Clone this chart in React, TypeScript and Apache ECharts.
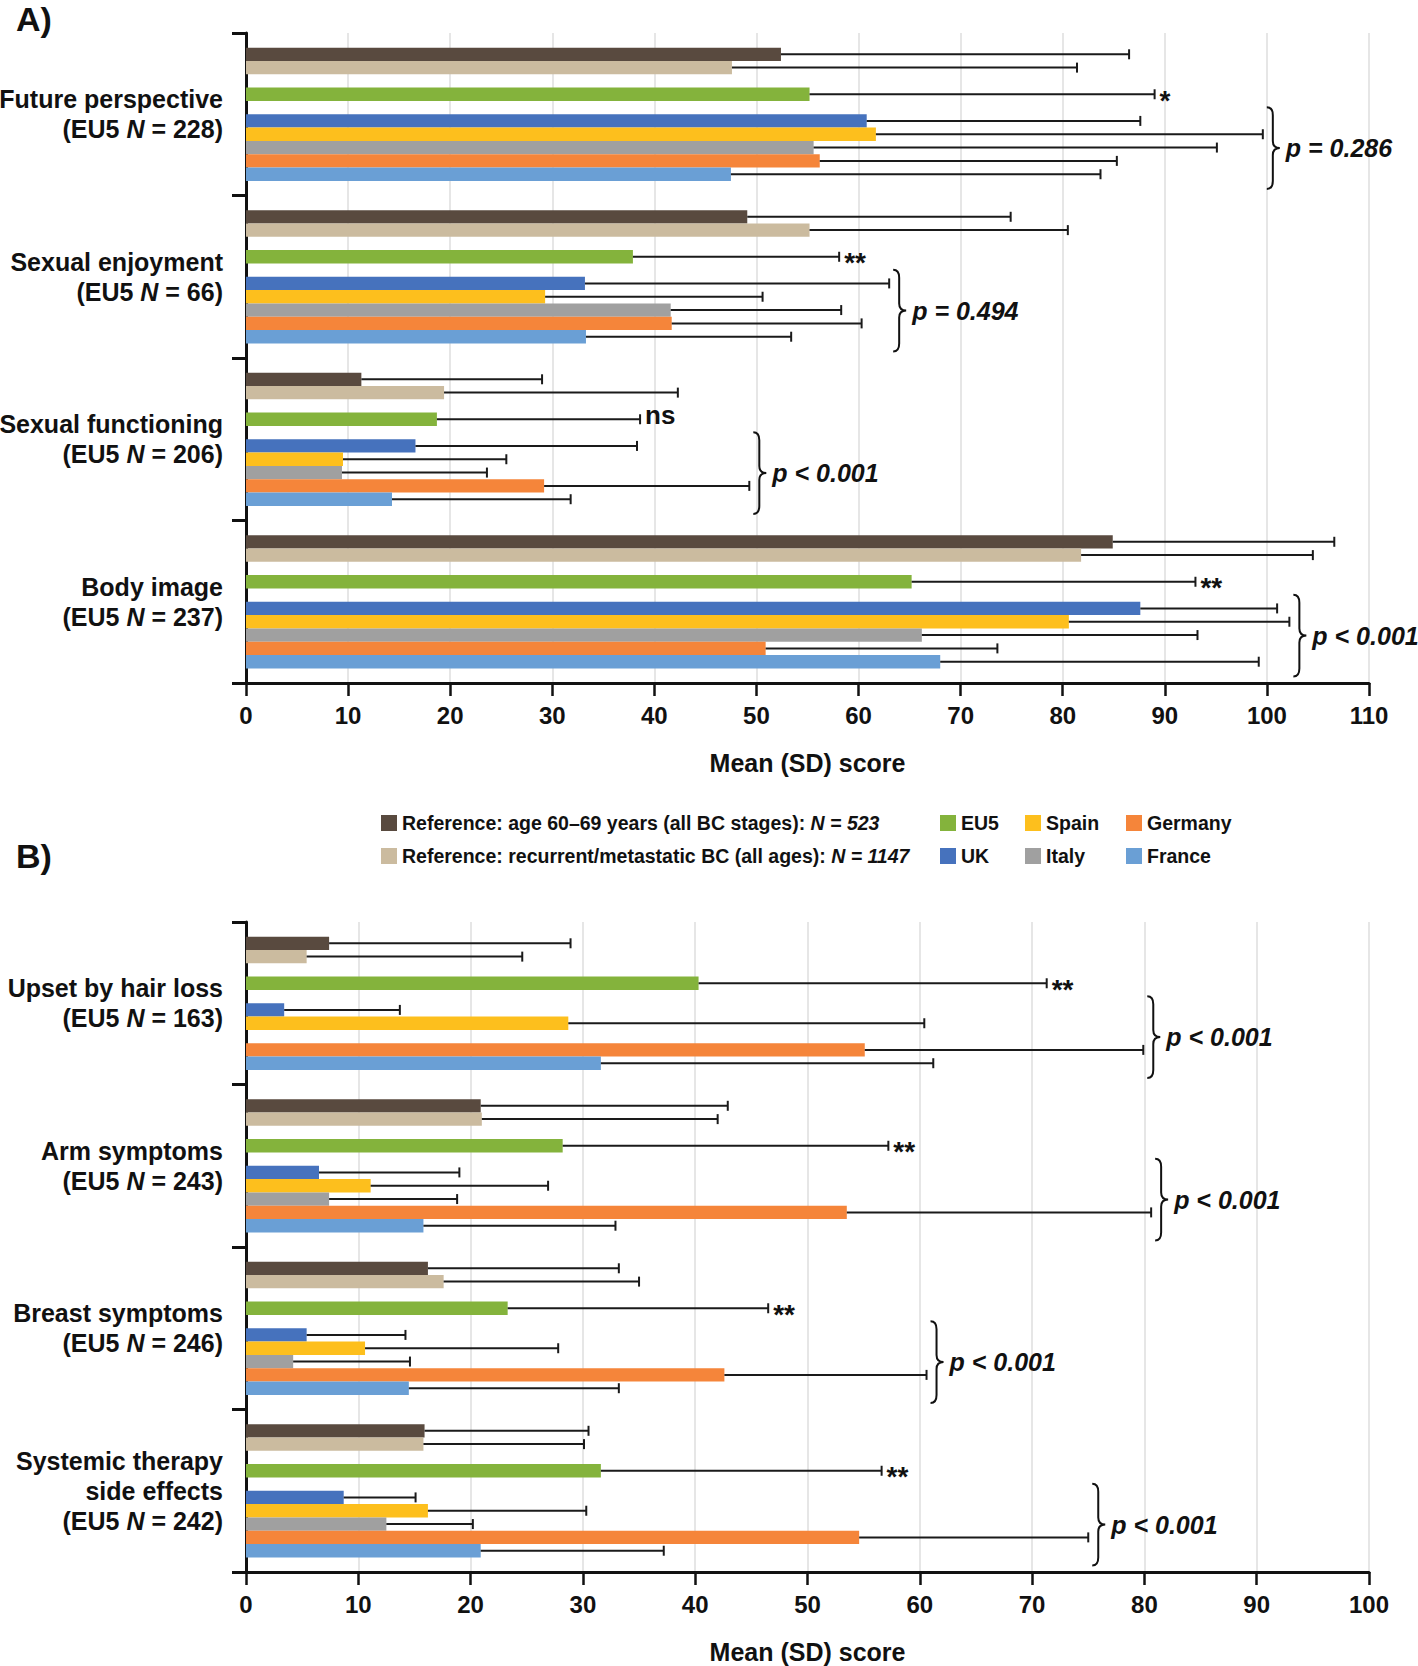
import React, { useEffect, useRef } from "react";
import * as echarts from "echarts";

const FONT = '"Liberation Sans", Arial, Helvetica, sans-serif';
const INK = "#111111";

// ---------- categories ----------
const panelACategories = ["Future perspective", "Sexual enjoyment", "Sexual functioning", "Body image"];
const panelAN = [228, 66, 206, 237];
const panelBCategories = ["Upset by hair loss", "Arm symptoms", "Breast symptoms", "Systemic therapy\nside effects"];
const panelBN = [163, 243, 246, 242];

// ---------- groups ----------
const groupNames = [
  "Reference: age 60\u201369 years (all BC stages): N = 523",
  "Reference: recurrent/metastatic BC (all ages): N = 1147",
  "EU5",
  "UK",
  "Spain",
  "Italy",
  "Germany",
  "France",
];
const groupColors = ["#594a3f", "#cbbb9f", "#84b33c", "#4672bd", "#fdbf1d", "#a0a0a0", "#f5853a", "#6a9fd5"];
// slot of each group inside a category band (slots 2 and 4 are empty)
const groupSlots = [0, 1, 3, 5, 6, 7, 8, 9];

// ---------- Panel A: means ----------
const meanA_ref60 = [52.4, 49.1, 11.3, 84.9];
const meanA_refMet = [47.6, 55.2, 19.4, 81.8];
const meanA_EU5 = [55.2, 37.9, 18.7, 65.2];
const meanA_UK = [60.8, 33.2, 16.6, 87.6];
const meanA_Spain = [61.7, 29.3, 9.5, 80.6];
const meanA_Italy = [55.6, 41.6, 9.4, 66.2];
const meanA_Germany = [56.2, 41.7, 29.2, 50.9];
const meanA_France = [47.5, 33.3, 14.3, 68.0];
// ---------- Panel A: SDs ----------
const sdA_ref60 = [34.1, 25.8, 17.7, 21.7];
const sdA_refMet = [33.8, 25.3, 22.9, 22.7];
const sdA_EU5 = [33.8, 20.2, 19.9, 27.8];
const sdA_UK = [26.8, 29.8, 21.7, 13.4];
const sdA_Spain = [37.9, 21.3, 16.0, 21.6];
const sdA_Italy = [39.5, 16.7, 14.2, 27.0];
const sdA_Germany = [29.1, 18.6, 20.1, 22.7];
const sdA_France = [36.2, 20.1, 17.5, 31.2];
const sigA = ["*", "**", "ns", "**"];
const pA = ["p = 0.286", "p = 0.494", "p < 0.001", "p < 0.001"];

// ---------- Panel B: means ----------
const meanB_ref60 = [7.4, 20.9, 16.2, 15.9];
const meanB_refMet = [5.4, 21.0, 17.6, 15.8];
const meanB_EU5 = [40.3, 28.2, 23.3, 31.6];
const meanB_UK = [3.4, 6.5, 5.4, 8.7];
const meanB_Spain = [28.7, 11.1, 10.6, 16.2];
const meanB_Italy = [null, 7.4, 4.2, 12.5];
const meanB_Germany = [55.1, 53.5, 42.6, 54.6];
const meanB_France = [31.6, 15.8, 14.5, 20.9];
// ---------- Panel B: SDs ----------
const sdB_ref60 = [21.5, 22.0, 17.0, 14.6];
const sdB_refMet = [19.2, 21.0, 17.4, 14.3];
const sdB_EU5 = [31.0, 29.0, 23.2, 25.0];
const sdB_UK = [10.3, 12.5, 8.8, 6.4];
const sdB_Spain = [31.7, 15.8, 17.2, 14.1];
const sdB_Italy = [null, 11.4, 10.4, 7.7];
const sdB_Germany = [24.8, 27.1, 18.0, 20.4];
const sdB_France = [29.6, 17.1, 18.7, 16.3];
const sigB = ["**", "**", "**", "**"];
const pB = ["p < 0.001", "p < 0.001", "p < 0.001", "p < 0.001"];

const xMaxA = 110;
const xMaxB = 100;
const xInterval = 10;

const meansA = [meanA_ref60, meanA_refMet, meanA_EU5, meanA_UK, meanA_Spain, meanA_Italy, meanA_Germany, meanA_France];
const sdsA = [sdA_ref60, sdA_refMet, sdA_EU5, sdA_UK, sdA_Spain, sdA_Italy, sdA_Germany, sdA_France];
const meansB = [meanB_ref60, meanB_refMet, meanB_EU5, meanB_UK, meanB_Spain, meanB_Italy, meanB_Germany, meanB_France];
const sdsB = [sdB_ref60, sdB_refMet, sdB_EU5, sdB_UK, sdB_Spain, sdB_Italy, sdB_Germany, sdB_France];

const N_SLOTS = 10;
const CAT_GAP = 0.18;

function slotGeom(api: any, cat: number) {
  const band = api.size([0, 1])[1];
  const total = band * (1 - CAT_GAP);
  const sw = total / N_SLOTS;
  const cy = api.coord([0, cat])[1];
  return { top: cy - total / 2, sw };
}

const renderErr = (params: any, api: any) => {
  const cat = api.value(0);
  const slot = api.value(1);
  const mean = api.value(2);
  const hi = api.value(3);
  const { top, sw } = slotGeom(api, cat);
  const y = top + sw * (slot + 0.5);
  const x0 = api.coord([mean, cat])[0];
  const x1 = api.coord([hi, cat])[0];
  return {
    type: "group",
    children: [
      { type: "line", shape: { x1: x0, y1: y, x2: x1, y2: y }, style: { stroke: "#1a1a1a", lineWidth: 2 } },
      { type: "line", shape: { x1: x1, y1: y - 5, x2: x1, y2: y + 5 }, style: { stroke: "#1a1a1a", lineWidth: 2 } },
    ],
  };
};

const makeAnnotRender = (pTexts: string[], sigTexts: string[]) => (params: any, api: any) => {
  const i = params.dataIndex;
  const cat = api.value(0);
  const maxHi = api.value(1);
  const euHi = api.value(2);
  const { top, sw } = slotGeom(api, cat);
  const yT = top + 5 * sw - 7;
  const yB = top + 10 * sw + 8;
  const yM = (yT + yB) / 2;
  const bx = api.coord([maxHi, cat])[0] + 4;
  const b = bx + 6;
  const d =
    `M${bx} ${yT} Q${b} ${yT} ${b} ${yT + 8} L${b} ${yM - 7} Q${b} ${yM} ${bx + 13} ${yM} ` +
    `Q${b} ${yM} ${b} ${yM + 7} L${b} ${yB - 8} Q${b} ${yB} ${bx} ${yB}`;
  const eY = top + 3.5 * sw;
  const ex = api.coord([euHi, cat])[0] + 5;
  const sig = sigTexts[i];
  const sigIsStar = sig.indexOf("*") >= 0;
  return {
    type: "group",
    children: [
      { type: "path", shape: { pathData: d }, style: { stroke: INK, lineWidth: 2, fill: "none" } },
      {
        type: "text",
        style: {
          text: pTexts[i], x: bx + 19, y: yM, align: "left", verticalAlign: "middle",
          fill: INK, fontSize: 25, fontWeight: "bold", fontStyle: "italic", fontFamily: FONT,
        },
      },
      {
        type: "text",
        style: {
          text: sig, x: ex, y: sigIsStar ? eY + 6 : eY - 4, align: "left", verticalAlign: "middle",
          fill: INK, fontSize: sigIsStar ? 28 : 26, fontWeight: "bold", fontFamily: FONT,
        },
      },
    ],
  };
};

function makeX(idx: number, max: number) {
  return {
    type: "value",
    gridIndex: idx,
    min: 0,
    max,
    interval: xInterval,
    axisLine: { show: true, lineStyle: { color: INK, width: 3 } },
    axisTick: { show: true, length: 13, lineStyle: { color: INK, width: 2.5 } },
    axisLabel: { margin: 20, fontSize: 24, fontWeight: "bold", color: INK, fontFamily: FONT },
    splitLine: { show: true, lineStyle: { color: "#e6e6e6", width: 2 } },
    name: "Mean (SD) score",
    nameLocation: "middle",
    nameGap: 67,
    nameTextStyle: { fontSize: 25, fontWeight: "bold", color: INK, fontFamily: FONT },
  };
}

function makeY(idx: number, cats: string[], ns: number[]) {
  return {
    type: "category",
    gridIndex: idx,
    inverse: true,
    data: cats,
    axisLine: { show: true, lineStyle: { color: INK, width: 3 } },
    axisTick: { show: true, length: 14, lineStyle: { color: INK, width: 3 } },
    splitLine: { show: false },
    axisLabel: {
      interval: 0,
      margin: 23,
      align: "right",
      fontSize: 25,
      fontWeight: "bold",
      color: INK,
      fontFamily: FONT,
      lineHeight: 30,
      formatter: (v: string, i: number) => `${v}\n(EU5 {i|N} = ${ns[i]})`,
      rich: {
        i: { fontStyle: "italic", fontWeight: "bold", fontSize: 25, fontFamily: FONT, color: INK, lineHeight: 30 },
      },
    },
  };
}

function buildPanelSeries(p: number, means: (number | null)[][], sds: (number | null)[][], pTexts: string[], sigTexts: string[]) {
  const series: any[] = [];
  for (let s = 0; s < N_SLOTS; s++) {
    const g = groupSlots.indexOf(s);
    if (g < 0) {
      series.push({
        type: "bar", name: "__gap" + s, xAxisIndex: p, yAxisIndex: p, silent: true,
        data: means[0].map(() => "-"), barGap: "0%", barCategoryGap: CAT_GAP * 100 + "%",
      });
    } else {
      series.push({
        type: "bar", name: groupNames[g], xAxisIndex: p, yAxisIndex: p,
        data: means[g].map((v) => (v == null ? "-" : v)),
        itemStyle: { color: groupColors[g] },
        barGap: "0%", barCategoryGap: CAT_GAP * 100 + "%",
      });
    }
  }
  const errData: number[][] = [];
  means.forEach((arr, g) => {
    arr.forEach((m, c) => {
      const sd = sds[g][c];
      if (m != null && sd != null) errData.push([c, groupSlots[g], m, m + sd]);
    });
  });
  series.push({
    type: "custom", name: "err" + p, xAxisIndex: p, yAxisIndex: p, z: 5, silent: true,
    renderItem: renderErr, encode: { y: 0, x: [2, 3] }, data: errData,
  });
  const annData = means[0].map((_, c) => {
    let maxHi = 0;
    for (let g = 3; g < 8; g++) {
      const m = means[g][c];
      const sd = sds[g][c];
      if (m != null && sd != null) maxHi = Math.max(maxHi, m + sd);
    }
    const eu = (means[2][c] as number) + (sds[2][c] as number);
    return [c, maxHi, eu];
  });
  series.push({
    type: "custom", name: "ann" + p, xAxisIndex: p, yAxisIndex: p, z: 6, silent: true, clip: false,
    renderItem: makeAnnotRender(pTexts, sigTexts), encode: { y: 0, x: [1, 2] }, data: annData,
  });
  return series;
}

const legendCols = [381, 940, 1025, 1126];
const legendRows = [813, 846];
const legendPlace = [
  [0, 0], [0, 1], [1, 0], [1, 1], [2, 0], [2, 1], [3, 0], [3, 1],
];

function buildLegends() {
  return groupNames.map((name, g) => ({
    show: true,
    left: legendCols[legendPlace[g][0]],
    top: legendRows[legendPlace[g][1]],
    orient: "horizontal",
    padding: 0,
    itemWidth: 16,
    itemHeight: 16,
    itemGap: 0,
    icon: "rect",
    selectedMode: false,
    data: [name],
    formatter: (n: string) => n.replace(/(N = \d+)$/, "{i|$1}"),
    textStyle: {
      fontSize: 19.5, fontWeight: "bold", color: INK, fontFamily: FONT, lineHeight: 16,
      rich: { i: { fontSize: 19.5, fontWeight: "bold", fontStyle: "italic", color: INK, fontFamily: FONT, lineHeight: 16 } },
    },
  }));
}

export default function App() {
  const ref = useRef<HTMLDivElement>(null);
  useEffect(() => {
    document.body.style.margin = "0";
    if (!ref.current) return;
    const chart = echarts.init(ref.current, null, { renderer: "svg" });
    const option: any = {
      animation: false,
      backgroundColor: "#ffffff",
      textStyle: { fontFamily: FONT },
      grid: [
        { left: 246, top: 33, width: 1123, height: 650, containLabel: false, outerBoundsMode: "none" },
        { left: 246, top: 922, width: 1123, height: 650, containLabel: false, outerBoundsMode: "none" },
      ],
      xAxis: [makeX(0, xMaxA), makeX(1, xMaxB)],
      yAxis: [makeY(0, panelACategories, panelAN), makeY(1, panelBCategories, panelBN)],
      legend: buildLegends(),
      graphic: [
        { type: "text", x: 16, y: 19, style: { text: "A)", fontSize: 34, fontWeight: "bold", fill: INK, fontFamily: FONT, verticalAlign: "middle" } },
        { type: "text", x: 16, y: 856, style: { text: "B)", fontSize: 34, fontWeight: "bold", fill: INK, fontFamily: FONT, verticalAlign: "middle" } },
      ],
      series: [
        ...buildPanelSeries(0, meansA, sdsA, pA, sigA),
        ...buildPanelSeries(1, meansB, sdsB, pB, sigB),
      ],
    };
    chart.setOption(option);
    return () => chart.dispose();
  }, []);
  return <div ref={ref} style={{ width: 1418, height: 1666 }} />;
}
